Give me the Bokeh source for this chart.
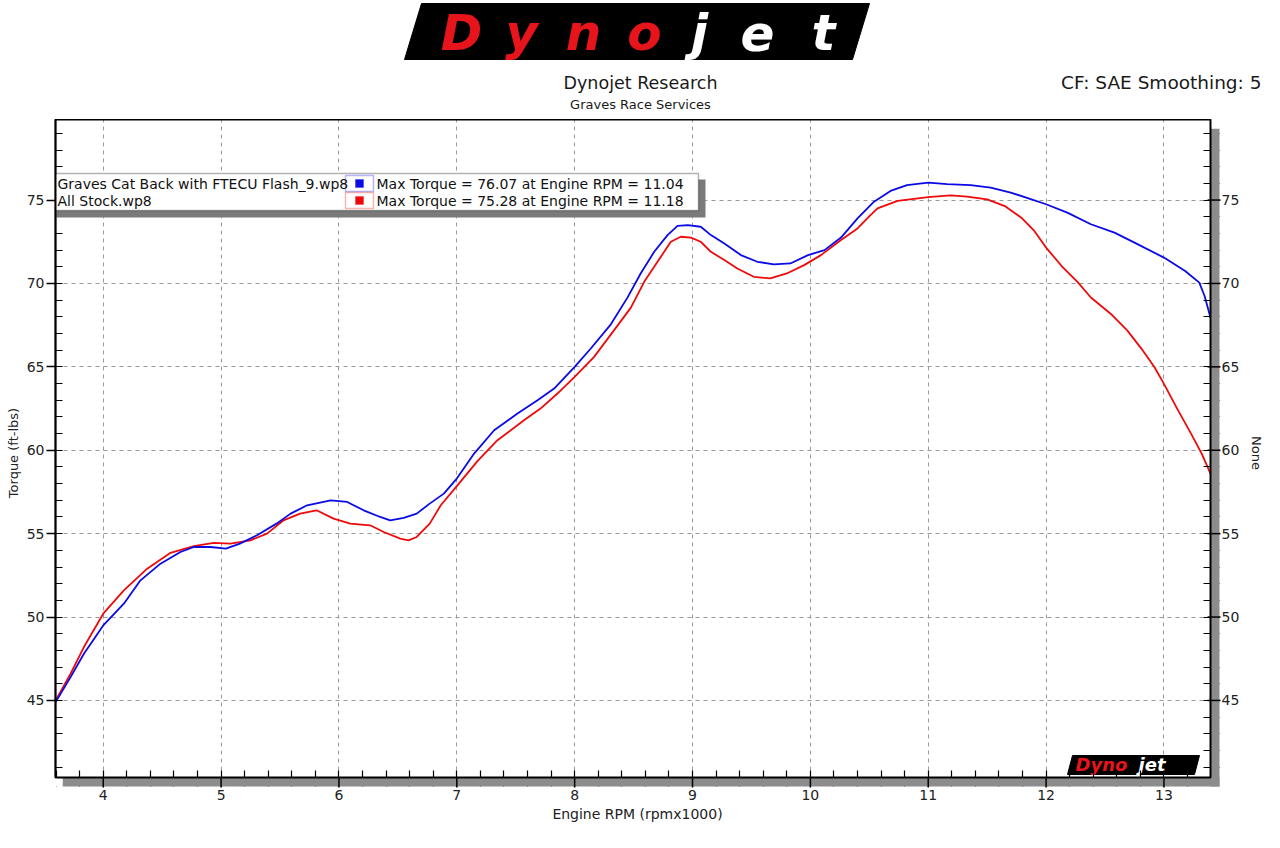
from bokeh.plotting import figure
from bokeh.layouts import column
from bokeh.models import Range1d, LinearAxis, SingleIntervalTicker, BoxAnnotation, Label
from bokeh.core.properties import value
from bokeh.embed import file_html
from bokeh.resources import INLINE

# ---------------- data ----------------
rpm_graves = [3.596, 3.723, 3.836, 4.0, 4.175, 4.316, 4.486, 4.655, 4.77, 4.91,
              5.04, 5.16, 5.305, 5.47, 5.59, 5.73, 5.93, 6.07, 6.21, 6.35,
              6.435, 6.55, 6.66, 6.77, 6.89, 7.0, 7.147, 7.317, 7.515, 7.685,
              7.826, 8.0, 8.137, 8.307, 8.448, 8.56, 8.675, 8.788, 8.873, 8.96,
              9.07, 9.156, 9.27, 9.41, 9.55, 9.69, 9.83, 9.98, 10.12, 10.26,
              10.4, 10.54, 10.68, 10.82, 11.0, 11.16, 11.36, 11.53, 11.70, 11.87,
              12.0, 12.18, 12.38, 12.58, 12.75, 13.0, 13.18, 13.30, 13.345, 13.395]
tq_graves = [44.9, 46.4, 47.8, 49.5, 50.8, 52.2, 53.2, 53.9, 54.2, 54.2,
             54.1, 54.4, 54.9, 55.6, 56.2, 56.7, 57.0, 56.9, 56.4, 56.0,
             55.8, 55.95, 56.2, 56.8, 57.4, 58.3, 59.8, 61.2, 62.2, 63.0,
             63.7, 65.0, 66.1, 67.55, 69.15, 70.6, 71.9, 72.9, 73.45, 73.5,
             73.4, 72.9, 72.4, 71.7, 71.3, 71.15, 71.2, 71.7, 72.0, 72.75,
             73.9, 74.9, 75.55, 75.9, 76.05, 75.95, 75.9, 75.75, 75.45, 75.05,
             74.75, 74.25, 73.55, 73.05, 72.45, 71.55, 70.75, 70.05, 69.25, 67.95]

rpm_stock = [3.596, 3.723, 3.836, 4.0, 4.175, 4.373, 4.571, 4.768, 4.938, 5.08,
             5.249, 5.39, 5.53, 5.67, 5.81, 5.955, 6.096, 6.265, 6.38, 6.52,
             6.59, 6.66, 6.77, 6.864, 7.0, 7.175, 7.345, 7.57, 7.71, 7.854,
             8.0, 8.165, 8.335, 8.477, 8.59, 8.703, 8.816, 8.9, 8.986, 9.07,
             9.156, 9.27, 9.38, 9.52, 9.66, 9.8, 9.947, 10.09, 10.26, 10.4,
             10.51, 10.57, 10.74, 11.0, 11.19, 11.33, 11.5, 11.65, 11.79, 11.9,
             12.0, 12.13, 12.27, 12.38, 12.55, 12.69, 12.81, 12.92, 13.0, 13.12,
             13.23, 13.32, 13.395]
tq_stock = [45.0, 46.6, 48.2, 50.2, 51.6, 52.9, 53.85, 54.25, 54.45, 54.4,
            54.6, 55.0, 55.8, 56.2, 56.4, 55.9, 55.6, 55.5, 55.1, 54.7,
            54.6, 54.8, 55.6, 56.7, 57.85, 59.35, 60.6, 61.8, 62.5, 63.4,
            64.4, 65.6, 67.2, 68.55, 70.1, 71.3, 72.5, 72.8, 72.75, 72.5,
            71.9, 71.4, 70.9, 70.4, 70.3, 70.6, 71.1, 71.7, 72.6, 73.3,
            74.1, 74.5, 74.95, 75.18, 75.28, 75.2, 75.04, 74.64, 73.94, 73.15,
            72.15, 71.06, 70.06, 69.16, 68.17, 67.17, 66.08, 64.98, 63.98, 62.39,
            61.0, 59.8, 58.6]

series_names = ["Graves Cat Back with FTECU Flash_9.wp8", "All Stock.wp8"]
max_torque = [76.07, 75.28]
max_torque_rpm = [11.04, 11.18]
series_colors = ["#0a0ae6", "#ee0a0a"]

x_ticks = [4, 5, 6, 7, 8, 9, 10, 11, 12, 13]
y_ticks = [45, 50, 55, 60, 65, 70, 75]

title_text = "Dynojet Research"
subtitle_text = "Graves Race Services"
corner_text = "CF: SAE Smoothing: 5"
x_title = "Engine RPM (rpmx1000)"
y_title = "Torque (ft-lbs)"
y2_title = "None"
logo_dark = "Dyno"
logo_light = "jet"

# ---------------- layout constants ----------------
FONT = "DejaVu Sans"
PAGE_W = 1280
HEAD_H = 119                       # header strip height (page px)
MAIN_H = 727
RF_L, RF_R, RF_T, RF_B = 55, 1210, 119, 777     # drawn frame (page px)
X0, X1 = 3.595, 13.395
Y0, Y1 = 40.38, 79.83
SH = 9                              # drop-shadow size (px)
PX_X = (RF_R - RF_L) / (X1 - X0)
PX_Y = (RF_B - RF_T) / (Y1 - Y0)


def rx(px):
    return X0 + (px - RF_L) / PX_X


def ry(py):
    return Y0 + (RF_B - py) / PX_Y


def no_align(fig):
    if "frame_align" in fig.properties():
        fig.frame_align = False


# ---------------- header (logo + titles) ----------------
hp = figure(width=PAGE_W, height=HEAD_H, x_range=Range1d(0, PAGE_W), y_range=Range1d(HEAD_H, 0),
            output_backend="svg", toolbar_location=None, title=None,
            x_axis_location=None, y_axis_location=None, min_border=0,
            background_fill_color="white", border_fill_color="white")
hp.outline_line_color = None
hp.xgrid.visible = False
hp.ygrid.visible = False
no_align(hp)

hp.patch([404, 421, 869, 852], [59, 3, 3, 59], fill_color="black", line_color="black")
letters = list(logo_dark) + list(logo_light)
centers = [461, 521, 583, 644, 699, 757, 823]
colors = ["#e8141b"] * len(logo_dark) + ["white"] * len(logo_light)
hp.text(x=centers, y=[32] * len(letters), text=letters, text_color=colors,
        text_font=value(FONT), text_font_size="50px", text_font_style=value("bold italic"),
        text_align="center", text_baseline="middle")

hp.text(x=[640], y=[82], text=[title_text], text_font=value(FONT), text_font_size="17.5px",
        text_align="center", text_baseline="middle", text_color="#1a1a1a")
hp.text(x=[640], y=[104], text=[subtitle_text], text_font=value(FONT), text_font_size="13px",
        text_align="center", text_baseline="middle", text_color="#1a1a1a")
hp.text(x=[1261], y=[82], text=[corner_text], text_font=value(FONT), text_font_size="18.5px",
        text_align="right", text_baseline="middle", text_color="#1a1a1a")

# ---------------- main chart ----------------
frame_r = RF_R + SH
frame_b = RF_B + SH
p = figure(width=PAGE_W, height=MAIN_H, output_backend="svg", toolbar_location=None, title=None,
           x_range=Range1d(X0, rx(frame_r)), y_range=Range1d(ry(frame_b), Y1),
           min_border_left=RF_L, min_border_right=PAGE_W - frame_r,
           min_border_top=0, min_border_bottom=MAIN_H - (frame_b - HEAD_H),
           background_fill_color="white", border_fill_color="white")
p.outline_line_color = None
no_align(p)

p.xaxis.ticker = SingleIntervalTicker(interval=1, num_minor_ticks=5)
p.yaxis.ticker = SingleIntervalTicker(interval=5, num_minor_ticks=5)
p.xaxis.axis_label = x_title
p.yaxis.axis_label = y_title
right_axis = LinearAxis(ticker=SingleIntervalTicker(interval=5, num_minor_ticks=5),
                        axis_label=y2_title)
p.add_layout(right_axis, "right")

p.xaxis.bounds = (X0, X1)
p.yaxis.bounds = (Y0, Y1)

for ax in p.below + p.left + p.right:
    ax.axis_line_color = "black"
    ax.axis_line_width = 1.5
    ax.major_tick_line_color = "black"
    ax.major_tick_line_width = 1.5
    ax.minor_tick_line_color = "black"
    ax.minor_tick_line_width = 1.2
    ax.major_tick_out = 9
    ax.major_tick_in = 0
    ax.minor_tick_in = 7
    ax.minor_tick_out = 0
    ax.major_label_text_font = FONT
    ax.major_label_text_font_size = "14px"
    ax.major_label_text_color = "#222222"
    ax.major_label_standoff = 2
    ax.axis_label_text_font = FONT
    ax.axis_label_text_font_style = "normal"
    ax.axis_label_text_font_size = "13px"
    ax.axis_label_text_color = "#222222"
    ax.axis_label_standoff = 3
# bottom and right axes sit at the outer edge of the drop shadow
for ax in (p.below[0], right_axis):
    ax.axis_line_color = None
    ax.major_tick_out = 0
    ax.major_tick_in = SH
    ax.minor_tick_in = SH + 7
p.xaxis.axis_label_text_font_size = "14px"
p.xaxis.major_label_standoff = 3
right_axis.major_label_standoff = 2
right_axis.axis_label_standoff = 7

for g in (p.xgrid, p.ygrid):
    g.grid_line_color = "#9a9a9a"
    g.grid_line_dash = "4 4"
    g.grid_line_width = 1

# curves
p.line(rpm_stock, tq_stock, line_color=series_colors[1], line_width=1.8)
p.line(rpm_graves, tq_graves, line_color=series_colors[0], line_width=1.8)

# frame drop shadow, drawn over the overshooting grid/ticks
shadow = "#8c8c8c"
p.quad(left=[rx(RF_L + 7)], right=[rx(frame_r)], top=[ry(RF_B)], bottom=[ry(frame_b)],
       fill_color=shadow, line_color=None, level="overlay")
p.quad(left=[rx(RF_R)], right=[rx(frame_r)], top=[ry(RF_T + SH)], bottom=[ry(frame_b)],
       fill_color=shadow, line_color=None, level="overlay")
p.quad(left=[rx(RF_L - 2)], right=[rx(RF_L + 7)], top=[ry(RF_B)], bottom=[ry(frame_b)],
       fill_color="white", line_color=None, level="overlay")
p.quad(left=[rx(RF_R)], right=[rx(frame_r)], top=[Y1], bottom=[ry(RF_T + SH)],
       fill_color="white", line_color=None, level="overlay")
# major tick marks crossing the shadow
p.segment(x0=x_ticks, y0=[ry(RF_B)] * len(x_ticks), x1=x_ticks, y1=[ry(frame_b + 1)] * len(x_ticks),
          line_color="black", line_width=1.5, level="overlay")
p.segment(x0=[rx(RF_R - 3)] * len(y_ticks), y0=y_ticks, x1=[rx(frame_r + 1)] * len(y_ticks), y1=y_ticks,
          line_color="black", line_width=1.5, level="overlay")
# frame border
p.quad(left=[X0], right=[X1], top=[Y1], bottom=[Y0], fill_color=None,
       line_color="black", line_width=2, level="overlay")

# legend box
p.add_layout(BoxAnnotation(left=rx(52), right=rx(705), top=ry(179), bottom=ry(217),
                           fill_color="#7a7a7a", fill_alpha=1, line_color=None))
p.add_layout(BoxAnnotation(left=rx(46), right=rx(698), top=ry(173), bottom=ry(210),
                           fill_color="white", fill_alpha=1, line_color="black", line_width=1.5))
for i, (name, col) in enumerate(zip(series_names, series_colors)):
    cy = 183 + 17 * i
    p.add_layout(BoxAnnotation(left=rx(345), right=rx(373), top=ry(cy - 8), bottom=ry(cy + 8),
                               fill_alpha=0, line_color=col, line_width=1.5))
    p.add_layout(BoxAnnotation(left=rx(355), right=rx(363), top=ry(cy - 4), bottom=ry(cy + 4),
                               fill_color=col, fill_alpha=1, line_color=col))
    p.add_layout(Label(x=rx(57), y=ry(cy), text=name, text_font=FONT,
                       text_font_size="14px", text_baseline="middle", text_color="#111111"))
    p.add_layout(Label(x=rx(376), y=ry(cy),
                       text=f"Max Torque = {max_torque[i]:.2f} at Engine RPM = {max_torque_rpm[i]:.2f}",
                       text_font=FONT, text_font_size="14px", text_baseline="middle",
                       text_color="#111111"))

# small logo inside the plot
p.patch([rx(1067), rx(1072), rx(1199), rx(1194)], [ry(774), ry(755), ry(755), ry(774)],
        fill_color="black", line_color="black")
p.text(x=[rx(1075)], y=[ry(764)], text=[logo_dark], text_font=value(FONT), text_font_size="18px",
       text_font_style=value("bold italic"), text_baseline="middle", text_color="#e8141b")
p.text(x=[rx(1138)], y=[ry(764)], text=[logo_light], text_font=value(FONT), text_font_size="18px",
       text_font_style=value("bold italic"), text_baseline="middle", text_color="white")

layout = column(hp, p, spacing=0)
open("out.html", "w").write(file_html(layout, INLINE))
